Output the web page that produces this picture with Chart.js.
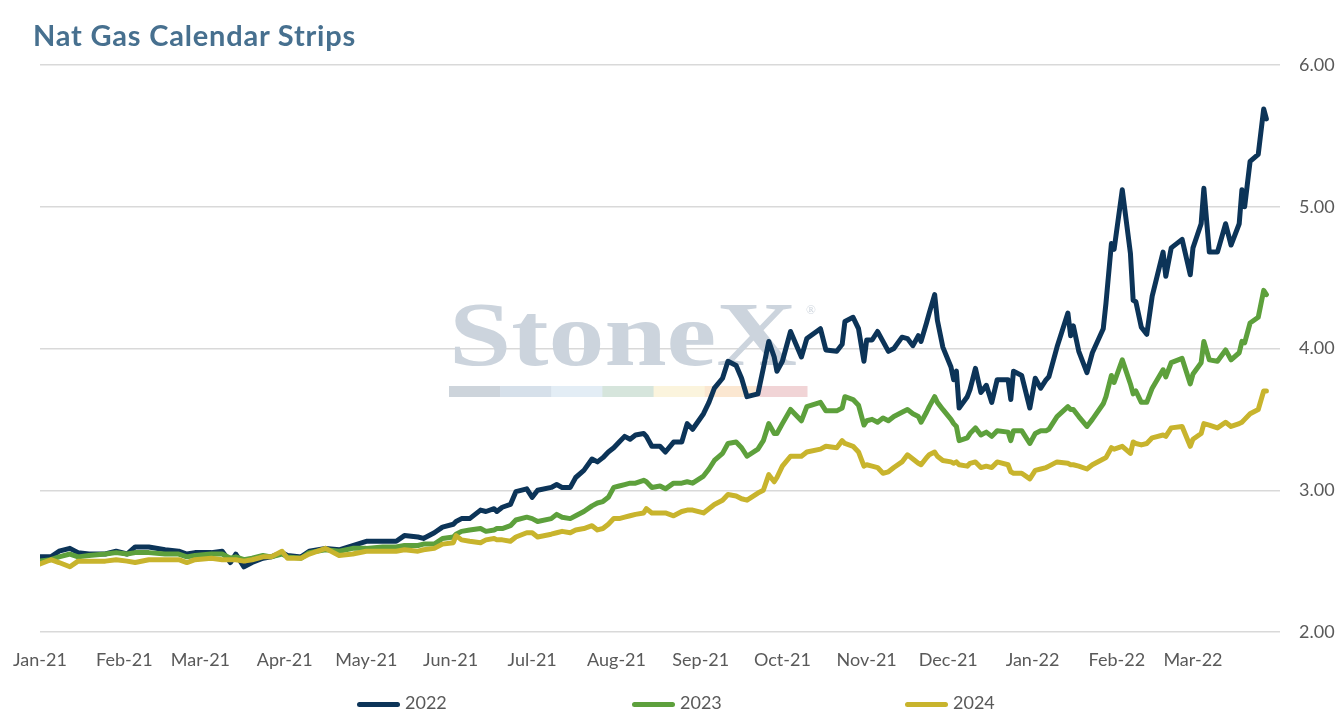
<!DOCTYPE html>
<html>
<head>
<meta charset="utf-8">
<title>Nat Gas Calendar Strips</title>
<script src="https://cdn.jsdelivr.net/npm/chart.js@4.4.1/dist/chart.umd.min.js"></script>
<style>
  html, body { margin: 0; padding: 0; background: #fff; }
  #wrap { position: relative; width: 1344px; height: 723px; }
  #titre {
    position: absolute; left: 33px; top: 16px;
    font: bold 29px Lato, "Open Sans", sans-serif; color: #47708f;
    letter-spacing: 0.8px; line-height: 38px;
  }
  .leg { position: absolute; top: 690px; font: 18px Lato, sans-serif; color: #595959; line-height: 24px; }
  .leg span { display: inline-block; width: 43px; height: 5px; border-radius: 3px; vertical-align: middle; margin-right: 5px; }
</style>
</head>
<body>
<div id="wrap">
  <canvas id="grafik"></canvas>
  <div id="titre">Nat Gas Calendar Strips</div>
  <div class="leg" style="left:357px"><span style="background:#0c3458"></span>2022</div>
  <div class="leg" style="left:632px"><span style="background:#5da03c"></span>2023</div>
  <div class="leg" style="left:905px"><span style="background:#c8b42d"></span>2024</div>
</div>
<script>
// ====== data (hari sejak 1 Jan 2021) ======
const hari = [
  0, 4, 7, 11, 14, 18, 24, 28, 32, 35, 40, 46, 51, 54, 57, 63, 67, 70, 72, 75, 78, 82,
  85, 89, 91, 96, 99, 105, 110, 115, 120, 126, 131, 134, 139, 141, 145, 148, 152, 153, 155, 158,
  162, 164, 167, 168, 170, 173, 175, 179, 181, 183, 188, 190, 192, 195, 197, 200, 203, 205, 207, 209,
  211, 213, 215, 217, 219, 222, 223, 225, 228, 230, 233, 236, 238, 240, 244, 246, 248, 251, 253, 256,
  258, 260, 264, 266, 268, 270, 271, 273, 276, 280, 282, 287, 289, 293, 295, 296, 299, 301, 303, 304,
  306, 308, 310, 312, 314, 317, 319, 321, 323, 324, 326, 327, 329, 330, 332, 335, 336, 337, 338, 341,
  342, 344, 346, 348, 350, 352, 356, 357, 358, 361, 364, 366, 368, 370, 371, 374, 378, 379, 380, 382,
  385, 387, 391, 392, 394, 395, 398, 401, 402, 403, 405, 407, 409, 413, 414, 416, 420, 423, 424, 427,
  428, 430, 433, 436, 438, 441, 442, 443, 445, 448, 450, 451
];

const strip2022 = [
  2.53, 2.53, 2.57, 2.59, 2.56, 2.55, 2.55, 2.57, 2.55, 2.60, 2.60, 2.58, 2.57, 2.55, 2.56, 2.56, 2.57, 2.49, 2.55, 2.46, 2.49, 2.52,
  2.53, 2.56, 2.54, 2.53, 2.57, 2.59, 2.58, 2.61, 2.64, 2.64, 2.64, 2.68, 2.67, 2.66, 2.70, 2.74, 2.76, 2.78, 2.80, 2.80,
  2.86, 2.85, 2.87, 2.85, 2.88, 2.90, 2.99, 3.01, 2.95, 3.00, 3.02, 3.04, 3.02, 3.02, 3.09, 3.14, 3.22, 3.20, 3.23, 3.27,
  3.30, 3.34, 3.38, 3.36, 3.39, 3.40, 3.38, 3.31, 3.31, 3.27, 3.34, 3.34, 3.47, 3.43, 3.54, 3.62, 3.72, 3.79, 3.91, 3.88,
  3.79, 3.66, 3.68, 3.86, 4.05, 3.94, 3.84, 3.91, 4.12, 3.94, 4.07, 4.14, 3.99, 3.98, 4.03, 4.19, 4.22, 4.14, 3.91, 4.06,
  4.06, 4.12, 4.05, 3.98, 4.00, 4.08, 4.07, 4.02, 4.09, 4.05, 4.18, 4.25, 4.38, 4.20, 4.01, 3.87, 3.78, 3.84, 3.58, 3.66,
  3.71, 3.86, 3.69, 3.74, 3.62, 3.78, 3.78, 3.64, 3.84, 3.81, 3.58, 3.79, 3.72, 3.78, 3.80, 4.01, 4.25, 4.09, 4.16, 3.98,
  3.83, 3.97, 4.14, 4.32, 4.74, 4.70, 5.12, 4.67, 4.34, 4.33, 4.15, 4.10, 4.37, 4.68, 4.51, 4.71, 4.77, 4.52, 4.71, 4.88,
  5.13, 4.68, 4.68, 4.88, 4.73, 4.88, 5.12, 5.00, 5.32, 5.37, 5.69, 5.62
];

const strip2023 = [
  2.50, 2.51, 2.53, 2.55, 2.53, 2.54, 2.55, 2.56, 2.55, 2.56, 2.56, 2.55, 2.55, 2.53, 2.54, 2.55, 2.55, 2.52, 2.53, 2.51, 2.52, 2.54,
  2.53, 2.55, 2.53, 2.52, 2.56, 2.58, 2.57, 2.59, 2.59, 2.60, 2.60, 2.61, 2.61, 2.62, 2.62, 2.66, 2.67, 2.69, 2.71, 2.72,
  2.73, 2.71, 2.72, 2.73, 2.73, 2.75, 2.79, 2.81, 2.80, 2.78, 2.80, 2.83, 2.81, 2.80, 2.82, 2.85, 2.89, 2.91, 2.92, 2.95,
  3.02, 3.03, 3.04, 3.05, 3.05, 3.07, 3.06, 3.02, 3.03, 3.01, 3.05, 3.05, 3.06, 3.05, 3.10, 3.15, 3.21, 3.26, 3.33, 3.34,
  3.30, 3.24, 3.29, 3.35, 3.47, 3.40, 3.40, 3.47, 3.57, 3.49, 3.59, 3.62, 3.56, 3.56, 3.58, 3.66, 3.64, 3.60, 3.46, 3.49,
  3.50, 3.48, 3.51, 3.49, 3.52, 3.55, 3.57, 3.54, 3.52, 3.48, 3.55, 3.59, 3.66, 3.62, 3.57, 3.50, 3.47, 3.45, 3.35, 3.37,
  3.40, 3.44, 3.39, 3.41, 3.38, 3.42, 3.41, 3.35, 3.42, 3.42, 3.33, 3.40, 3.42, 3.42, 3.43, 3.52, 3.59, 3.57, 3.57, 3.52,
  3.45, 3.50, 3.61, 3.66, 3.81, 3.76, 3.92, 3.75, 3.68, 3.70, 3.62, 3.62, 3.72, 3.85, 3.80, 3.90, 3.93, 3.75, 3.82, 3.90,
  4.05, 3.92, 3.91, 3.99, 3.92, 3.97, 4.05, 4.04, 4.18, 4.22, 4.41, 4.38
];

const strip2024 = [
  2.48, 2.51, 2.49, 2.46, 2.50, 2.50, 2.50, 2.51, 2.50, 2.49, 2.51, 2.51, 2.51, 2.49, 2.51, 2.52, 2.51, 2.51, 2.51, 2.50, 2.51, 2.53,
  2.53, 2.57, 2.52, 2.52, 2.55, 2.59, 2.54, 2.55, 2.57, 2.57, 2.57, 2.58, 2.57, 2.58, 2.59, 2.62, 2.63, 2.68, 2.65, 2.64,
  2.63, 2.65, 2.66, 2.65, 2.65, 2.64, 2.67, 2.70, 2.70, 2.67, 2.69, 2.70, 2.71, 2.70, 2.72, 2.73, 2.75, 2.72, 2.73, 2.76,
  2.80, 2.80, 2.81, 2.82, 2.83, 2.84, 2.87, 2.84, 2.84, 2.84, 2.82, 2.85, 2.86, 2.86, 2.84, 2.87, 2.90, 2.93, 2.97, 2.96,
  2.94, 2.93, 2.98, 3.00, 3.11, 3.06, 3.09, 3.17, 3.24, 3.24, 3.27, 3.29, 3.31, 3.30, 3.35, 3.33, 3.31, 3.27, 3.17, 3.18,
  3.17, 3.16, 3.12, 3.13, 3.16, 3.20, 3.25, 3.22, 3.19, 3.18, 3.23, 3.25, 3.27, 3.24, 3.21, 3.20, 3.19, 3.20, 3.18, 3.17,
  3.19, 3.20, 3.16, 3.17, 3.16, 3.20, 3.18, 3.13, 3.12, 3.12, 3.08, 3.14, 3.15, 3.16, 3.17, 3.20, 3.19, 3.18, 3.18, 3.17,
  3.15, 3.18, 3.22, 3.23, 3.30, 3.29, 3.31, 3.26, 3.34, 3.33, 3.32, 3.33, 3.37, 3.39, 3.38, 3.44, 3.45, 3.31, 3.36, 3.40,
  3.47, 3.46, 3.44, 3.48, 3.45, 3.47, 3.48, 3.50, 3.54, 3.57, 3.70, 3.70
];

// tick bulan
const awalBulan = [0, 31, 59, 90, 120, 151, 181, 212, 243, 273, 304, 334, 365, 396, 424];
const namaBulan = ["Jan-21", "Feb-21", "Mar-21", "Apr-21", "May-21", "Jun-21", "Jul-21", "Aug-21",
  "Sep-21", "Oct-21", "Nov-21", "Dec-21", "Jan-22", "Feb-22", "Mar-22"];
const tickY = [2, 3, 4, 5, 6];

const toXY = (vals) => hari.map((d, i) => ({ x: d, y: vals[i] }));

// watermark StoneX di belakang garis
const watermark = {
  id: "watermark",
  beforeDatasetsDraw(chart) {
    const c = chart.ctx;
    c.save();
    const warnaBar = ["#cdd4db", "#d6e0ea", "#e3edf5", "#d6e5dc", "#fbf4dd", "#fbe7d1", "#f1d4d6"];
    const x0 = 449, w = 358 / warnaBar.length;
    warnaBar.forEach((w8, i) => {
      c.fillStyle = w8;
      c.fillRect(x0 + i * w, 386, w + 0.5, 11);
    });
    c.fillStyle = "#ccd4dd";
    c.font = "bold 92px 'Liberation Serif', serif";
    c.textBaseline = "alphabetic";
    const lebar = c.measureText("StoneX").width;
    c.translate(x0, 365);
    c.scale(348 / lebar, 1);
    c.fillText("StoneX", 0, 0);
    c.restore();
    c.save();
    c.fillStyle = "#d0d7df";
    c.font = "13px 'Liberation Serif', serif";
    c.fillText("®", 806, 314);
    c.restore();
  },
};

const fontTick = { family: "Lato, 'Open Sans', sans-serif", size: 18 };

new Chart(document.getElementById("grafik"), {
  type: "line",
  data: {
    datasets: [
      { label: "2022", data: toXY(strip2022), borderColor: "#0c3458", order: 2 },
      { label: "2023", data: toXY(strip2023), borderColor: "#5da03c", order: 1 },
      { label: "2024", data: toXY(strip2024), borderColor: "#c8b42d", order: 0 },
    ],
  },
  options: {
    responsive: true,
    maintainAspectRatio: false,
    animation: false,
    layout: { padding: { left: 40, right: 8, top: 65, bottom: 52 } },
    elements: {
      line: { borderWidth: 5, tension: 0, borderJoinStyle: "round", borderCapStyle: "round", fill: false },
      point: { radius: 0 },
    },
    plugins: { legend: { display: false }, title: { display: false }, tooltip: { enabled: false } },
    scales: {
      x: {
        type: "linear",
        min: 0,
        max: 456,
        grid: { display: false, drawTicks: false },
        border: { display: false },
        afterBuildTicks: (s) => { s.ticks = awalBulan.map((v) => ({ value: v })); },
        afterFit: (s) => { s.height = 39; s.paddingLeft = 0; s.paddingRight = 0; },
        ticks: {
          autoSkip: false,
          maxRotation: 0,
          padding: 17,
          color: "#595959",
          font: fontTick,
          callback: (v) => namaBulan[awalBulan.indexOf(v)],
        },
      },
      y: {
        position: "right",
        min: 2,
        max: 6,
        afterBuildTicks: (s) => { s.ticks = tickY.map((v) => ({ value: v })); },
        afterFit: (s) => { s.width = 56; s.paddingTop = 0; s.paddingBottom = 0; },
        grid: { color: "#d9d9d9", lineWidth: 1.5, drawTicks: false },
        border: { display: false },
        ticks: { padding: 19, color: "#595959", font: fontTick, callback: (v) => v.toFixed(2) },
      },
    },
  },
  plugins: [watermark],
});
</script>
</body>
</html>
